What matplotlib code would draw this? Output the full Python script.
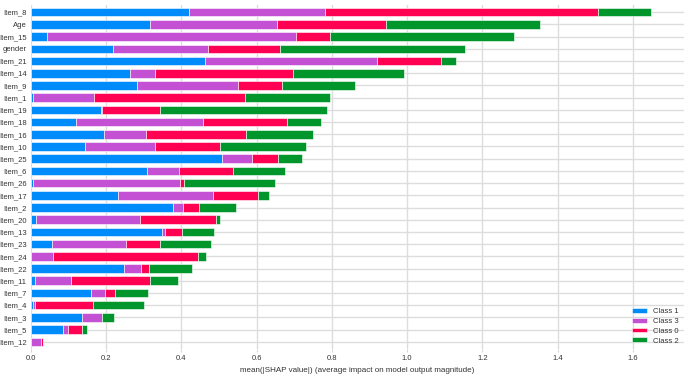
import numpy as np
import matplotlib
matplotlib.use("Agg")
import matplotlib.pyplot as plt

plt.rcParams['font.family'] = ['Liberation Sans', 'DejaVu Sans']

# features, top to bottom
features = ["Item_8", "Age", "Item_15", "gender", "Item_21", "Item_14", "Item_9",
            "Item_1", "Item_19", "Item_18", "Item_16", "Item_10", "Item_25", "Item_6",
            "Item_26", "Item_17", "Item_2", "Item_20", "Item_13", "Item_23", "Item_24",
            "Item_22", "Item_11", "Item_7", "Item_4", "Item_3", "Item_5", "Item_12"]

# mean |SHAP| per class (stacked in this order)
class_1 = [0.420, 0.317, 0.043, 0.218, 0.464, 0.263, 0.281, 0.007, 0.186, 0.121,
           0.195, 0.145, 0.507, 0.309, 0.007, 0.232, 0.379, 0.014, 0.349, 0.057,
           0.000, 0.247, 0.010, 0.161, 0.007, 0.136, 0.086, 0.000]
class_3 = [0.361, 0.337, 0.663, 0.253, 0.456, 0.068, 0.269, 0.161, 0.002, 0.336,
           0.111, 0.186, 0.081, 0.084, 0.390, 0.251, 0.025, 0.275, 0.008, 0.195,
           0.058, 0.045, 0.098, 0.035, 0.005, 0.052, 0.014, 0.027]
class_0 = [0.727, 0.289, 0.090, 0.191, 0.169, 0.367, 0.117, 0.400, 0.155, 0.223,
           0.267, 0.172, 0.069, 0.145, 0.010, 0.122, 0.043, 0.203, 0.046, 0.090,
           0.386, 0.023, 0.209, 0.029, 0.154, 0.002, 0.037, 0.006]
class_2 = [0.141, 0.411, 0.487, 0.492, 0.040, 0.293, 0.194, 0.226, 0.443, 0.092,
           0.178, 0.228, 0.063, 0.138, 0.242, 0.028, 0.099, 0.010, 0.083, 0.136,
           0.022, 0.113, 0.075, 0.086, 0.136, 0.032, 0.012, 0.000]

series = [("Class 1", class_1, "#008bfb"),
          ("Class 3", class_3, "#c451d4"),
          ("Class 0", class_0, "#ff0052"),
          ("Class 2", class_2, "#00962b")]

fig = plt.figure(figsize=(6.85, 3.75), dpi=100)
ax = fig.add_axes([0.045, 0.069, 0.953, 0.918])

y = np.arange(len(features))
left = np.zeros(len(features))
for name, vals, col in series:
    vals = np.array(vals)
    ax.barh(y, vals, left=left, height=0.7, color=col, label=name,
            edgecolor="white", linewidth=0.4, zorder=3)
    left += vals

ax.set_yticks(y)
ax.set_yticklabels(features)
ax.set_ylim(27.6, -0.6)
ax.set_xlim(0, 1.735)
ax.set_xticks([0.0, 0.2, 0.4, 0.6, 0.8, 1.0, 1.2, 1.4, 1.6])
ax.set_xticklabels(["0.0", "0.2", "0.4", "0.6", "0.8", "1.0", "1.2", "1.4", "1.6"])

ax.grid(True, color="#dddddd", linewidth=1.0, zorder=0)
ax.set_axisbelow(True)
for s in ax.spines.values():
    s.set_visible(False)
ax.tick_params(axis="y", length=0, labelsize=5.5, labelcolor="#333333", pad=3)
ax.tick_params(axis="x", length=2.5, width=0.6, color="#cccccc", labelsize=5.5,
               labelcolor="#333333", pad=2)

ax.set_xlabel("mean(|SHAP value|) (average impact on model output magnitude)",
              fontsize=5.75, color="#333333", labelpad=3)

ax.legend(loc="lower right", frameon=False, fontsize=5.5, handlelength=2.0,
          handleheight=0.6, labelspacing=0.35, borderaxespad=0.2,
          labelcolor="#333333")

fig.savefig("out.png", dpi=100)
